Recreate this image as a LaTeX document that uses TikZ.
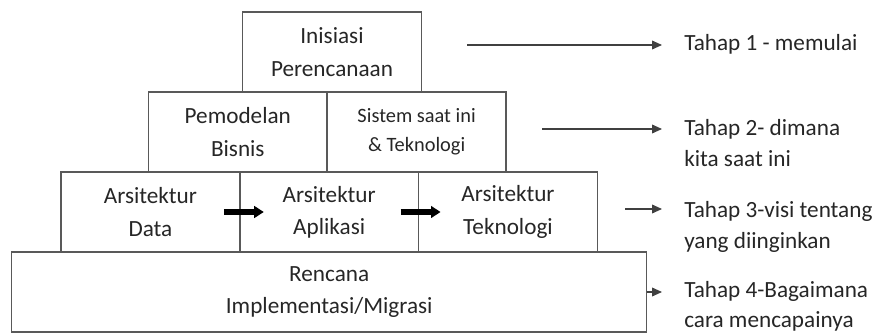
\documentclass[tikz,border=0pt]{standalone}
\usepackage{fontspec}
\setmainfont{Carlito}
\usetikzlibrary{positioning,arrows.meta}
\tikzset{
  cell/.style={
    draw=black!65, line width=1.1pt, align=center,
    inner sep=0pt, outer sep=0pt, text=black!85,
    minimum width=4.47cm, minimum height=2cm,
    font=\fontsize{16.5}{23}\selectfont,
  },
  smallcell/.style={cell, font=\fontsize{14.5}{20.5}\selectfont},
  widecell/.style={cell, minimum width=15.875cm},
  phase/.style={
    anchor=north west, align=left, inner sep=0pt, text=black!85,
    font=\fontsize{16.5}{21.5}\selectfont,
  },
  bigflow/.style={-{Triangle[length=2.4mm, width=2.9mm]}, line width=3.6pt},
  pointer/.style={-{Triangle[length=2.5mm, width=2.2mm]}, line width=0.8pt,
    black!75, shorten >=0.55cm},
}

\begin{document}
\begin{tikzpicture}[node distance=0pt]
\useasboundingbox (0,0) rectangle (22,-8.35);

% pyramid
\node[cell, anchor=north] (init) at (8.3,-0.3) {Inisiasi\\Perencanaan};
\node[cell, anchor=north east] (model) at ([xshift=-1.2mm]init.south) {Pemodelan\\Bisnis};
\node[smallcell, right=of model] (sys) {Sistem saat ini\\\& Teknologi};
\node[cell, below=of {[xshift=0.5mm]model.south east}] (app) {Arsitektur\\Aplikasi};
\node[cell, left=of app] (data) {Arsitektur\\Data};
\node[cell, right=of app] (tech) {Arsitektur\\Teknologi};
\node[widecell, below=of app] (plan) {Rencana\\Implementasi/Migrasi};

\draw[bigflow] ([xshift=-4mm]data.east) -- ([xshift=6mm]app.west);
\draw[bigflow] ([xshift=-4.5mm]app.east) -- ([xshift=5.5mm]tech.west);

% phases
\node[phase] (t1) at (17.1,-0.85) {Tahap 1 - memulai};
\node[phase] (t2) at (17.1,-2.99) {Tahap 2- dimana\\kita saat ini};
\node[phase] (t3) at (17.1,-5.04) {Tahap 3-visi tentang\\yang diinginkan};
\node[phase] (t4) at (17.1,-7.03) {Tahap 4-Bagaimana\\cara mencapainya};

\coordinate (s1) at ([xshift=11.5mm, yshift=1.75mm]init.east);
\coordinate (s2) at ([xshift=9mm, yshift=0.75mm]sys.east);
\coordinate (s3) at ([xshift=7mm, yshift=0.75mm]tech.east);

\draw[pointer] (s1) -- (s1 -| t1.west);
\draw[pointer] (s2) -- (s2 -| t2.west);
\draw[pointer] (s3) -- (s3 -| t3.west);
\draw[pointer] (plan.east) -- (plan.east -| t4.west);

\end{tikzpicture}
\end{document}
